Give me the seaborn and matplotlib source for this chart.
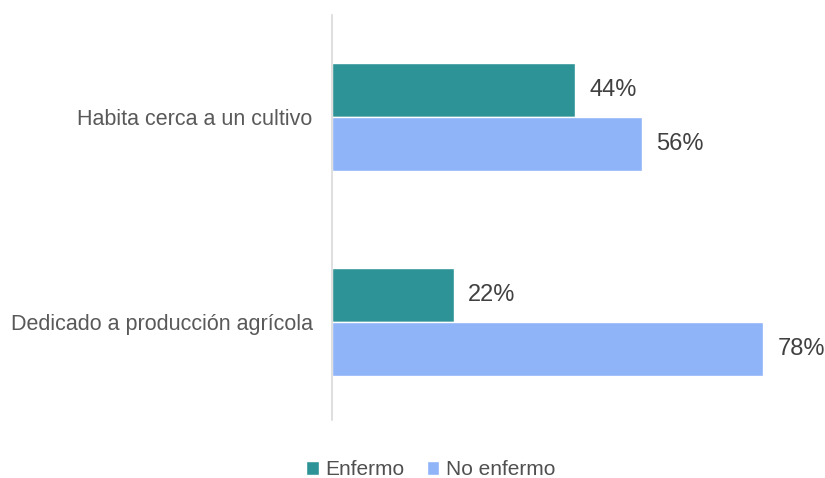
import pandas as pd
import matplotlib.pyplot as plt
import seaborn as sns

categories = ['Habita cerca a un cultivo', 'Dedicado a producción agrícola']
series = ['Enfermo', 'No enfermo']
enfermo = [44, 22]
no_enfermo = [56, 78]
colors = ['#2E9396', '#8FB4F8']

df = pd.DataFrame({
    'Categoria': categories * 2,
    'Grupo': [series[0]] * 2 + [series[1]] * 2,
    'Valor': enfermo + no_enfermo,
})

sns.set_style('white')
plt.rcParams['font.family'] = ['Liberation Sans', 'DejaVu Sans']

fig = plt.figure(figsize=(8.25, 4.78), dpi=100)
ax = fig.add_axes([0.4024, 0.121, 0.578, 0.848])

sns.barplot(data=df, y='Categoria', x='Valor', hue='Grupo', orient='h',
            palette=colors, width=0.53, saturation=1, ax=ax, legend=True)

for cont in ax.containers:
    ax.bar_label(cont, labels=[f'{v:.0f}%' for v in cont.datavalues],
                 padding=10, fontsize=17, color='#404040')

ax.set_xlim(0, 86.2)
ax.set_ylim(1.478, -0.498)
ax.set_xlabel('')
ax.set_ylabel('')
ax.set_xticks([])
ax.tick_params(axis='y', length=0, pad=14, labelsize=15.5, labelcolor='#595959')
for s in ['top', 'right', 'bottom']:
    ax.spines[s].set_visible(False)
ax.spines['left'].set_color('#D9D9D9')
ax.spines['left'].set_linewidth(1.2)

handles, labels = ax.get_legend_handles_labels()
ax.legend_.remove()
fig.legend(handles, labels, loc='center', bbox_to_anchor=(0.522, 0.017),
           ncol=2, frameon=False, fontsize=15, handlelength=0.6,
           handleheight=0.6, handletextpad=0.3, columnspacing=1.1,
           labelcolor='#505050')

fig.savefig('out.png', dpi=100)
